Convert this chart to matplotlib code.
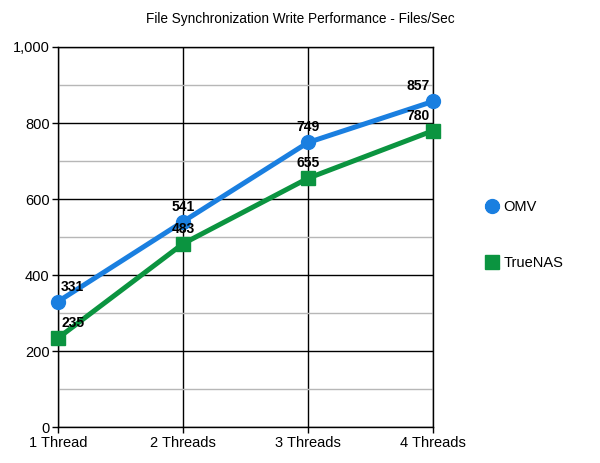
import numpy as np
import matplotlib
matplotlib.use("Agg")
import matplotlib.pyplot as plt
from matplotlib.lines import Line2D
from matplotlib.ticker import FuncFormatter, MultipleLocator

plt.rcParams["font.family"] = ["Liberation Sans", "DejaVu Sans"]

# chart data
categories = ["1 Thread", "2 Threads", "3 Threads", "4 Threads"]
omv = [331, 541, 749, 857]
truenas = [235, 483, 655, 780]
series_names = ["OMV", "TrueNAS"]
title = "File Synchronization Write Performance - Files/Sec"

blue = "#1a7fe0"
green = "#0b9440"

fig = plt.figure(figsize=(6, 4.63), dpi=100)
ax = fig.add_axes([0.0967, 0.0767, 0.625, 0.8218])

x = np.arange(len(categories))
ax.plot(x, omv, color=blue, lw=3.6, marker="o", ms=10, zorder=5, clip_on=False)
ax.plot(x, truenas, color=green, lw=3.6, marker="s", ms=10, zorder=5, clip_on=False)

# data labels
for vals in (omv, truenas):
    for i, v in enumerate(vals):
        if i == 0:
            ha, dx = "left", 3
        elif i == len(vals) - 1:
            ha, dx = "right", -3
        else:
            ha, dx = "center", 0
        ax.annotate(str(v), (x[i], v), xytext=(dx, 8), textcoords="offset pixels",
                    ha=ha, va="bottom", fontsize=10, fontweight="bold", zorder=6)

ax.set_xlim(0, len(categories) - 1)
ax.set_ylim(0, 1000)
ax.set_xticks(x)
ax.set_xticklabels(categories, fontsize=10.5)
ax.yaxis.set_major_locator(MultipleLocator(200))
ax.yaxis.set_minor_locator(MultipleLocator(100))
ax.yaxis.set_major_formatter(FuncFormatter(lambda v, p: f"{int(v):,}"))
ax.tick_params(axis="y", labelsize=10.5, length=4, width=1, color="black", pad=2)
ax.tick_params(axis="y", which="minor", length=0)
ax.tick_params(axis="x", length=4, width=1, pad=2)

ax.grid(axis="y", which="major", color="black", lw=1)
ax.grid(axis="y", which="minor", color="#b7b7b7", lw=1)
ax.grid(axis="x", which="major", color="black", lw=1)
ax.set_axisbelow(True)
for s in ax.spines.values():
    s.set_color("black")
    s.set_linewidth(1)

fig.text(0.5, 0.958, title, ha="center", va="center", fontsize=9.8)

handles = [
    Line2D([], [], color=blue, lw=3.6, marker="o", ms=10),
    Line2D([], [], color=green, lw=3.6, marker="s", ms=10),
]
fig.legend(handles, series_names, loc="upper left", bbox_to_anchor=(0.79, 0.596),
           frameon=False, fontsize=10.5, handlelength=0.7, handletextpad=0.4,
           labelspacing=2.85)

fig.savefig("out.png", dpi=100)
